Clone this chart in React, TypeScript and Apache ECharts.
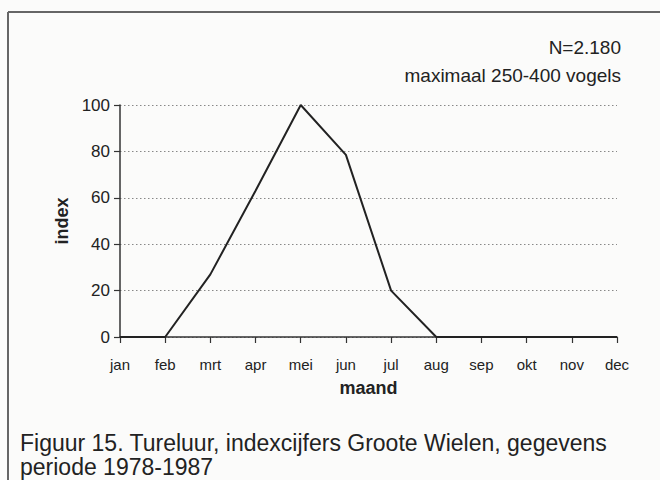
import React, { useEffect, useRef } from "react";
import * as echarts from "echarts";

const months = ["jan", "feb", "mrt", "apr", "mei", "jun", "jul", "aug", "sep", "okt", "nov", "dec"];
const indexValues = [0, 0, 27, 63, 100, 78.5, 20, 0, 0, 0, 0, 0];
const yTicks = [0, 20, 40, 60, 80, 100];
const noteN = "N=2.180";
const noteMax = "maximaal 250-400 vogels";
const caption1 = "Figuur 15. Tureluur, indexcijfers Groote Wielen, gegevens";
const caption2 = "periode 1978-1987";

export default function App() {
  const ref = useRef<HTMLDivElement>(null);
  useEffect(() => {
    if (!ref.current) return;
    const chart = echarts.init(ref.current, null, { renderer: "svg" });
    const font = "'Liberation Sans', Arial, sans-serif";
    chart.setOption({
      animation: false,
      backgroundColor: "#fbfbfa",
      grid: { left: 120, right: 43, top: 105, bottom: 143, containLabel: false },
      xAxis: {
        type: "category",
        data: months,
        boundaryGap: false,
        name: "maand",
        nameLocation: "middle",
        nameGap: 42,
        nameTextStyle: { fontFamily: font, fontSize: 18, fontWeight: "bold", color: "#222" },
        axisLine: { lineStyle: { color: "#333", width: 1.5 } },
        axisTick: { show: true, length: 6, alignWithLabel: true, lineStyle: { color: "#333", width: 1.2 } },
        axisLabel: { fontFamily: font, fontSize: 15, color: "#222", margin: 20, interval: 0 },
        splitLine: { show: false },
      },
      yAxis: {
        type: "value",
        min: 0,
        max: 100,
        interval: 20,
        name: "index",
        nameLocation: "middle",
        nameGap: 48,
        nameRotate: 90,
        nameTextStyle: { fontFamily: font, fontSize: 18, fontWeight: "bold", color: "#222" },
        axisLine: { show: true, lineStyle: { color: "#333", width: 1.5 } },
        axisTick: { show: true, length: 6, lineStyle: { color: "#333", width: 1.2 } },
        axisLabel: {
          fontFamily: font,
          fontSize: 17,
          color: "#222",
          margin: 10,
          formatter: (v: number) => (yTicks.includes(v) ? String(v) : ""),
        },
        splitLine: { show: true, lineStyle: { color: "#888", type: [1.5, 2.5], width: 1 } },
      },
      series: [
        {
          type: "line",
          data: indexValues,
          symbol: "none",
          lineStyle: { color: "#222", width: 2 },
          z: 5,
        },
      ],
      graphic: [
        { type: "line", shape: { x1: 8, y1: 12, x2: 660, y2: 12 }, style: { stroke: "#666", lineWidth: 2 } },
        { type: "line", shape: { x1: 8, y1: 12, x2: 8, y2: 480 }, style: { stroke: "#666", lineWidth: 2 } },
        {
          type: "text",
          right: 39,
          top: 38,
          style: { text: noteN, font: `19px ${font}`, fill: "#222" },
        },
        {
          type: "text",
          right: 39,
          top: 66,
          style: { text: noteMax, font: `19px ${font}`, fill: "#222" },
        },
        {
          type: "text",
          left: 20,
          top: 431,
          style: {
            text: caption1 + "\n" + caption2,
            font: `23px ${font}`,
            lineHeight: 24,
            fill: "#222",
          },
        },
      ],
    });
    return () => chart.dispose();
  }, []);
  return (
    <div
      ref={ref}
      style={{ position: "fixed", left: 0, top: 0, width: 660, height: 480, background: "#fbfbfa" }}
    />
  );
}
